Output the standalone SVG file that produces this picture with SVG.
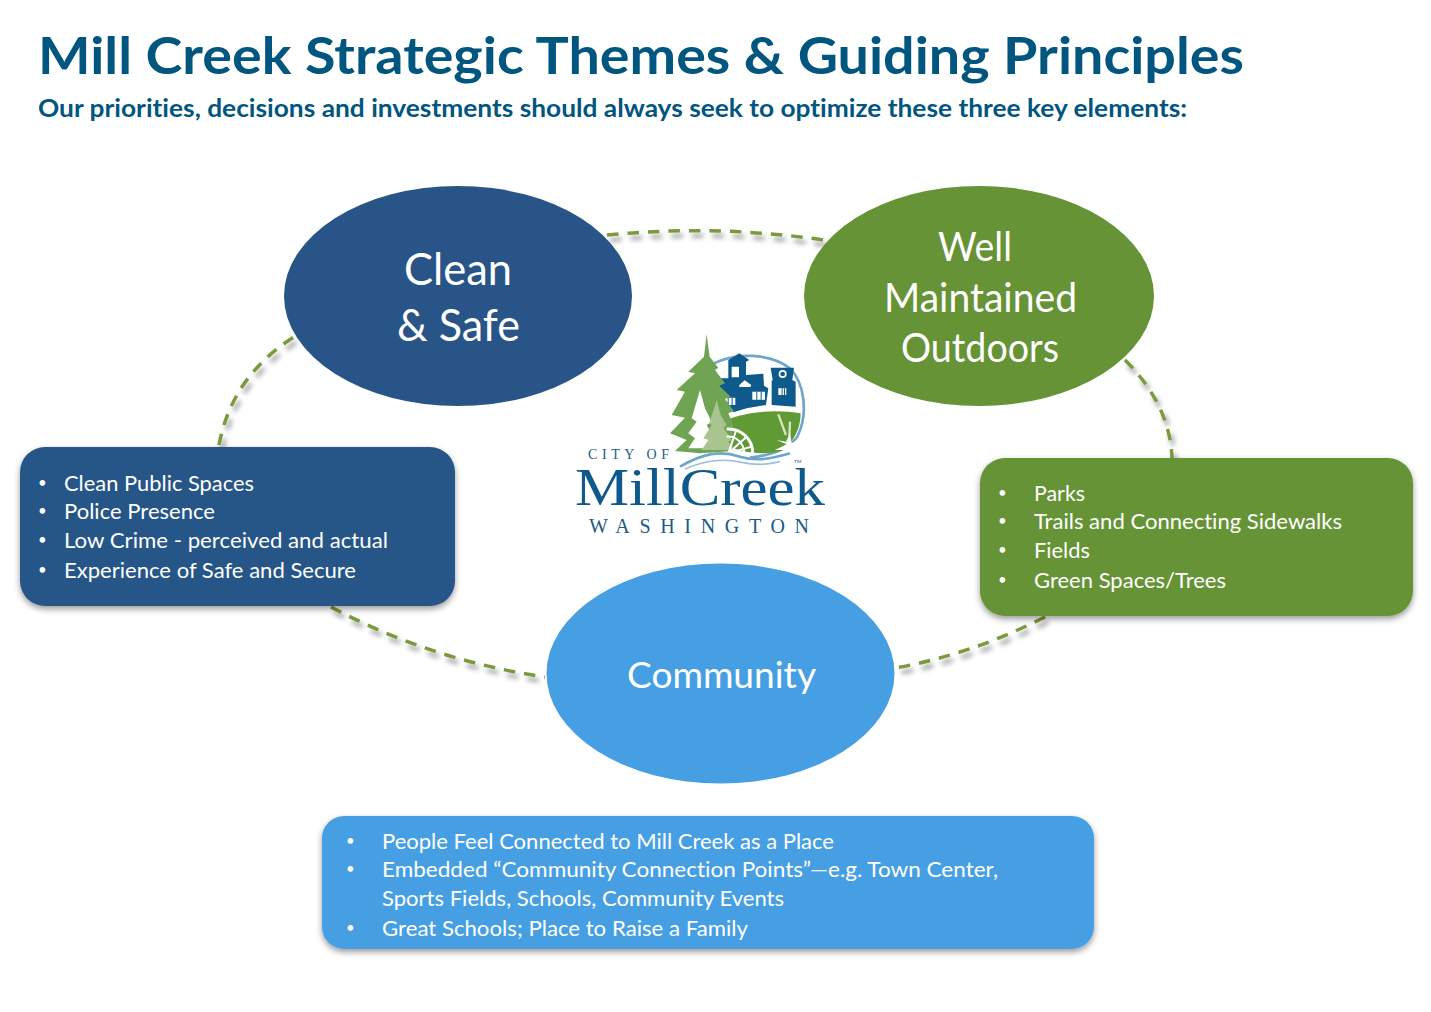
<svg xmlns="http://www.w3.org/2000/svg" width="1431" height="1012" viewBox="0 0 1431 1012">
<style>
text{font-family:Lato,"Open Sans","Liberation Sans",sans-serif;font-variant-ligatures:none}
.title{font-weight:700;fill:#00567f}
.b{fill:#fff;font-size:22px}
.d{fill:#fff;font-size:15px}
.big{fill:#fff;font-size:41px}
.navy{fill:#285487}.green{fill:#669335}.sky{fill:#479fe3}
.conn{fill:none;stroke:#7a9a3c;stroke-width:3.5;stroke-dasharray:11.500 9}
.serif{font-family:"Liberation Serif",serif;fill:#1a5c85}
.lb{fill:#0f5a8c}
</style>
<defs>
<filter id="sh" x="-10%" y="-10%" width="120%" height="125%"><feDropShadow dx="0" dy="3" stdDeviation="3" flood-color="#000" flood-opacity=".4"/></filter>
<filter id="cs" x="-20%" y="-20%" width="140%" height="140%"><feDropShadow dx="3" dy="5" stdDeviation="2.500" flood-color="#000" flood-opacity=".42"/></filter>
</defs>
<rect width="1431" height="1012" fill="#fff"/>
<text class="title" x="38" y="74" font-size="51" textLength="1206" lengthAdjust="spacingAndGlyphs">Mill Creek Strategic Themes &amp; Guiding Principles</text>
<text class="title" x="38" y="117" font-size="24.500" textLength="1149" lengthAdjust="spacingAndGlyphs">Our priorities, decisions and investments should always seek to optimize these three key elements:</text>
<g id="connectors" filter="url(#cs)">
<path class="conn" d="M607 235Q720 224 830 241"/>
<path class="conn" d="M1125 360Q1170 405 1172 458"/>
<path class="conn" d="M1045 617Q970 655 895 668"/>
<path class="conn" d="M331 607Q430 660 545 677"/>
<path class="conn" d="M219 445Q232 375 297 335"/>
</g>
<g id="node-clean-safe">
<ellipse class="navy" cx="458" cy="296" rx="174" ry="110"/>
<text class="big" x="458" y="285" text-anchor="middle" style="font-size:45px" textLength="108" lengthAdjust="spacingAndGlyphs">Clean</text>
<text class="big" x="458.500" y="341" text-anchor="middle" style="font-size:45px" textLength="123" lengthAdjust="spacingAndGlyphs">&amp; Safe</text>
</g>
<g id="node-well-maintained">
<ellipse class="green" cx="979" cy="296" rx="175" ry="110"/>
<text class="big" x="975" y="261" text-anchor="middle" textLength="74" lengthAdjust="spacingAndGlyphs">Well</text>
<text class="big" x="980.500" y="312" text-anchor="middle" textLength="193" lengthAdjust="spacingAndGlyphs">Maintained</text>
<text class="big" x="980" y="362" text-anchor="middle" textLength="158" lengthAdjust="spacingAndGlyphs">Outdoors</text>
</g>
<g id="node-community">
<ellipse class="sky" cx="720.500" cy="673.500" rx="174" ry="110"/>
<text class="big" x="721.500" y="688" text-anchor="middle" style="font-size:37px" textLength="189" lengthAdjust="spacingAndGlyphs">Community</text>
</g>
<g id="box-clean-safe">
<rect class="navy" x="20" y="447" width="435" height="159" rx="25" filter="url(#sh)"/>
<text class="d" x="38" y="488">•</text><text class="b" x="64" y="491" textLength="190" lengthAdjust="spacingAndGlyphs">Clean Public Spaces</text>
<text class="d" x="38" y="516">•</text><text class="b" x="64" y="519" textLength="151" lengthAdjust="spacingAndGlyphs">Police Presence</text>
<text class="d" x="38" y="545">•</text><text class="b" x="64" y="548" textLength="324" lengthAdjust="spacingAndGlyphs">Low Crime - perceived and actual</text>
<text class="d" x="38" y="575">•</text><text class="b" x="64" y="578" textLength="292" lengthAdjust="spacingAndGlyphs">Experience of Safe and Secure</text>
</g>
<g id="box-well-maintained">
<rect class="green" x="980" y="458" width="433" height="158" rx="25" filter="url(#sh)"/>
<text class="d" x="998" y="498">•</text><text class="b" x="1034" y="501" textLength="51" lengthAdjust="spacingAndGlyphs">Parks</text>
<text class="d" x="998" y="526">•</text><text class="b" x="1034" y="529" textLength="308" lengthAdjust="spacingAndGlyphs">Trails and Connecting Sidewalks</text>
<text class="d" x="998" y="555">•</text><text class="b" x="1034" y="558" textLength="56" lengthAdjust="spacingAndGlyphs">Fields</text>
<text class="d" x="998" y="585">•</text><text class="b" x="1034" y="588" textLength="192" lengthAdjust="spacingAndGlyphs">Green Spaces/Trees</text>
</g>
<g id="box-community">
<rect class="sky" x="322" y="816" width="772" height="133" rx="22" filter="url(#sh)"/>
<text class="d" x="346" y="846">•</text><text class="b" x="382" y="849" textLength="452" lengthAdjust="spacingAndGlyphs">People Feel Connected to Mill Creek as a Place</text>
<text class="d" x="346" y="874">•</text><text class="b" x="382" y="877" textLength="616" lengthAdjust="spacingAndGlyphs">Embedded “Community Connection Points”—e.g. Town Center,</text>
<text class="b" x="382" y="906" textLength="402" lengthAdjust="spacingAndGlyphs">Sports Fields, Schools, Community Events</text>
<text class="d" x="346" y="933">•</text><text class="b" x="382" y="936" textLength="366" lengthAdjust="spacingAndGlyphs">Great Schools; Place to Raise a Family</text>
</g>
<g id="logo">
<g transform="translate(560 325) scale(.3333)">
<path d="M455 118C530 80 630 85 690 130C735 175 745 270 712 335C680 380 620 392 570 398" fill="none" stroke="#6fa5cb" stroke-width="8"/>
<path d="M500 285C570 255 660 255 722 265C722 310 700 355 665 378C610 390 560 385 520 370Z" fill="#5f9a35"/>
<path class="lb" d="M505 105L538 85L568 105L558 110V150L610 146L612 182L625 190L618 240L560 250L520 262L470 200L465 160L505 160Z"/>
<path class="lb" d="M632 128H702L697 165L707 170V245L635 240V168L638 165Z"/>
<circle cx="668" cy="147" r="12" fill="#fff"/><circle cx="668" cy="147" r="7" class="lb"/>
<path d="M655 190h24v20h-24zM577 200h38v24h-38zM490 218h36v22h-36z" fill="#fff"/>
<path class="lb" d="M665 190h3v20h-3zM672 190h3v20h-3zM589 200h3v24h-3zM602 200h3v24h-3zM503 218h3v22h-3zM515 218h3v22h-3z"/>
<path d="M515 125h22v32h-22zM538 180l16-14 20 14-3 6h-33z" fill="#fff"/>
<path d="M440 28L449 95L475 128L465 135L495 175L478 182L512 215L495 222L522 258L505 265L520 300L520 378L420 385L345 378L380 345L330 325L375 278L335 270L375 200L350 195L405 145L385 140L432 95Z" fill="#6fa552"/>
<path d="M420 195L435 250L455 290L440 300L465 345L450 370H385L405 340L385 325L410 290L395 280Z" fill="#fff"/>
<path d="M470 225L482 270L500 300L490 308L515 345L505 350L522 375H425L445 345L430 340L455 300L448 295Z" fill="#a9c48f"/>
<g fill="none" stroke="#fff"><path d="M500 312A72 72 0 0 1 578 385" stroke-width="9"/><path d="M500 335A48 48 0 0 1 552 385" stroke-width="6"/><path d="M505 385L530 312M505 385L560 335M505 385L575 365" stroke-width="6"/></g>
<path d="M655 268L678 330M690 290L688 335" stroke="#d8e3c0" stroke-width="7" fill="none"/>
<path d="M650 345L680 358L645 375H700L715 345L695 355L690 325L678 350Z" fill="#fff"/>
<path d="M360 425C430 385 480 375 540 395C590 410 640 400 690 385" fill="none" stroke="#6fa5cb" stroke-width="8"/>
<path d="M375 432C440 405 490 400 545 412C590 422 630 418 660 410" fill="none" stroke="#9cc0da" stroke-width="5"/>
</g>
<text class="serif" x="588" y="459" font-size="14" textLength="81" lengthAdjust="spacing">CITY OF</text>
<text class="serif" x="575" y="505" font-size="53" textLength="250" lengthAdjust="spacingAndGlyphs" style="fill:#0f5a8c">MillCreek</text>
<text class="serif" x="589" y="533" font-size="20" textLength="220" lengthAdjust="spacing">WASHINGTON</text>
<text class="serif" x="794" y="463" font-size="5">TM</text>
</g>
</svg>
